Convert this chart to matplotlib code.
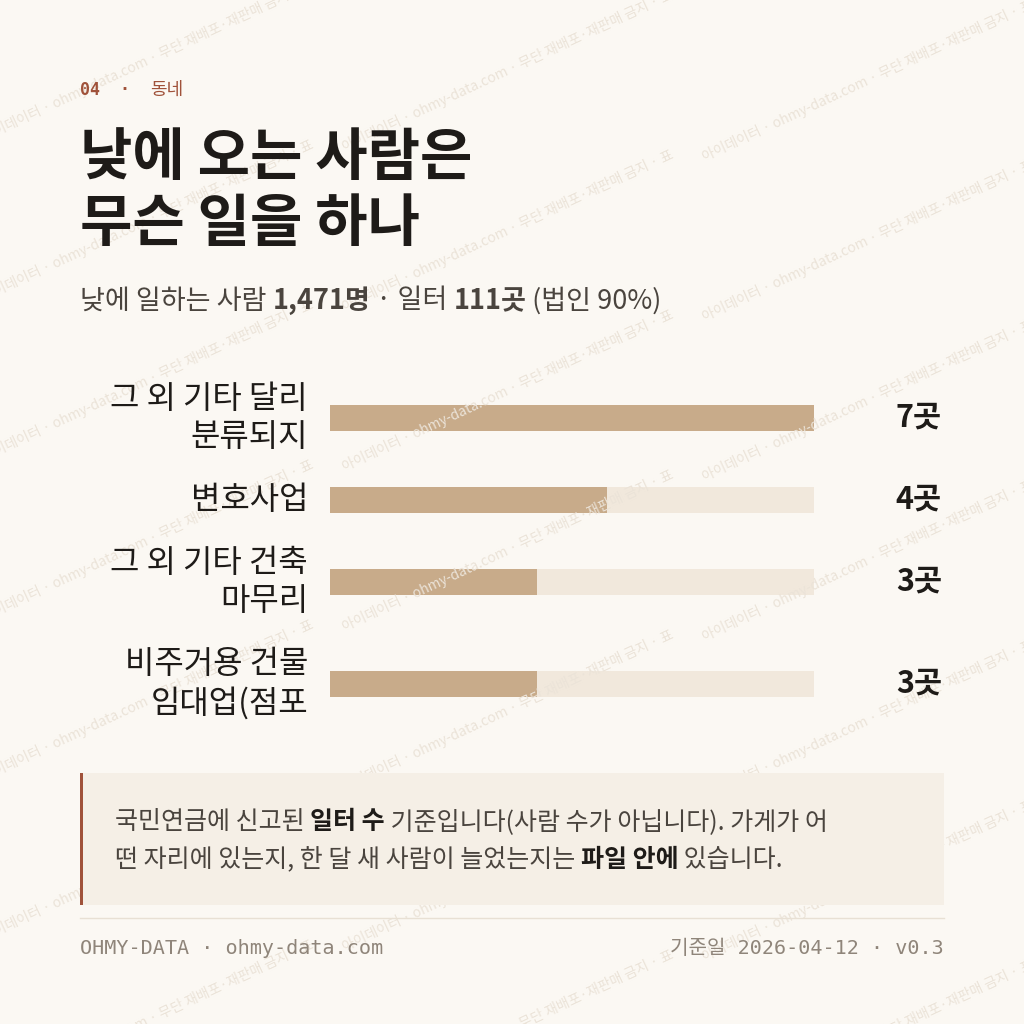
import matplotlib
matplotlib.use("Agg")
import matplotlib.pyplot as plt
from matplotlib.patches import Rectangle

plt.rcParams["font.family"] = ["Noto Sans CJK KR", "DejaVu Sans"]

CATEGORIES = ["그 외 기타 달리\n분류되지", "변호사업", "그 외 기타 건축\n마무리", "비주거용 건물\n임대업(점포"]
COUNTS = [7, 4, 3, 3]
BAR_Y_PX = [418, 500, 582, 684]
MAX_COUNT = 7

BG = "#fbf8f3"
INK = "#1e1b18"
BAR = "#c8ab8a"
TRACK = "#f1e8dc"
ACCENT = "#a0523a"
MUTED = "#8f857a"
MONO = ["DejaVu Sans Mono", "Noto Sans CJK KR"]

W = H = 1024
fig = plt.figure(figsize=(10.24, 10.24), dpi=100, facecolor=BG)


def fx(x):
    return x / W


def fy(y):
    return 1 - y / H


# watermark
wm = "아이데이터 · ohmy-data.com · 무단 재배포·재판매 금지 · 표"
for row in range(-3, 9):
    for col in range(-1, 4):
        x0 = col * 360 - 20
        y0 = row * 160 + col * 170 - 100
        fig.text(fx(x0), fy(y0), wm, rotation=25, fontsize=10, color="#ebe3d8",
                 ha="left", va="center", zorder=0)

fig.text(fx(80), fy(90), "04  ·", fontsize=12, color=ACCENT, family=MONO,
         weight="bold", va="center")
fig.text(fx(150), fy(90), "동네", fontsize=13, color=ACCENT, va="center")

fig.text(fx(80), fy(158), "낮에 오는 사람은", fontsize=41, weight="bold", color=INK, va="center")
fig.text(fx(80), fy(224), "무슨 일을 하나", fontsize=41, weight="bold", color=INK, va="center")


def runs(x, y, parts, size, color):
    r = fig.canvas.get_renderer()
    cur = fx(x)
    for txt, bold, col in parts:
        t = fig.text(cur, fy(y), txt, fontsize=size, color=col or color,
                     weight="bold" if bold else "normal", va="center")
        bb = t.get_window_extent(renderer=r)
        cur += bb.width / W


runs(80, 301, [("낮에 일하는 사람 ", False, None), ("1,471명", True, None),
               (" · 일터 ", False, None), ("111곳", True, None), (" (법인 90%)", False, None)],
     19.5, "#4a443e")

ax = fig.add_axes([fx(330), 0, fx(814) - fx(330), 1])
ax.set_xlim(0, MAX_COUNT)
ax.set_ylim(H, 0)
ax.axis("off")
for cat, n, y in zip(CATEGORIES, COUNTS, BAR_Y_PX):
    ax.barh(y, MAX_COUNT, height=26, color=TRACK, left=0)
    ax.barh(y, n, height=26, color=BAR, left=0)
    fig.text(fx(308), fy(y), cat, fontsize=23, color=INK, ha="right", va="center",
             linespacing=1.25, multialignment="right")
    fig.text(fx(942), fy(y), f"{n}곳", fontsize=22, weight="bold", color=INK,
             ha="right", va="center")

fig.patches.append(Rectangle((fx(80), fy(905)), fx(944) - fx(80), (905 - 773) / H,
                             transform=fig.transFigure, facecolor="#f5efe6", edgecolor="none", zorder=1))
fig.patches.append(Rectangle((fx(80), fy(905)), 3 / W, (905 - 773) / H,
                             transform=fig.transFigure, facecolor=ACCENT, edgecolor="none", zorder=2))
runs(115, 822, [("국민연금에 신고된 ", False, None), ("일터 수", True, INK),
                (" 기준입니다(사람 수가 아닙니다). 가게가 어", False, None)], 18, "#4a443e")
runs(115, 860, [("떤 자리에 있는지, 한 달 새 사람이 늘었는지는 ", False, None), ("파일 안에", True, INK),
                (" 있습니다.", False, None)], 18, "#4a443e")

fig.add_artist(plt.Line2D([fx(80), fx(944)], [fy(918), fy(918)], color="#e8e0d4", lw=1))
fig.text(fx(80), fy(948), "OHMY-DATA · ohmy-data.com", fontsize=14.5, family=MONO,
         color=MUTED, va="center")
fig.text(fx(944), fy(948), "기준일 2026-04-12 · v0.3", fontsize=14.5, family=MONO,
         color=MUTED, va="center", ha="right")

fig.savefig("out.png", dpi=100, facecolor=BG)
